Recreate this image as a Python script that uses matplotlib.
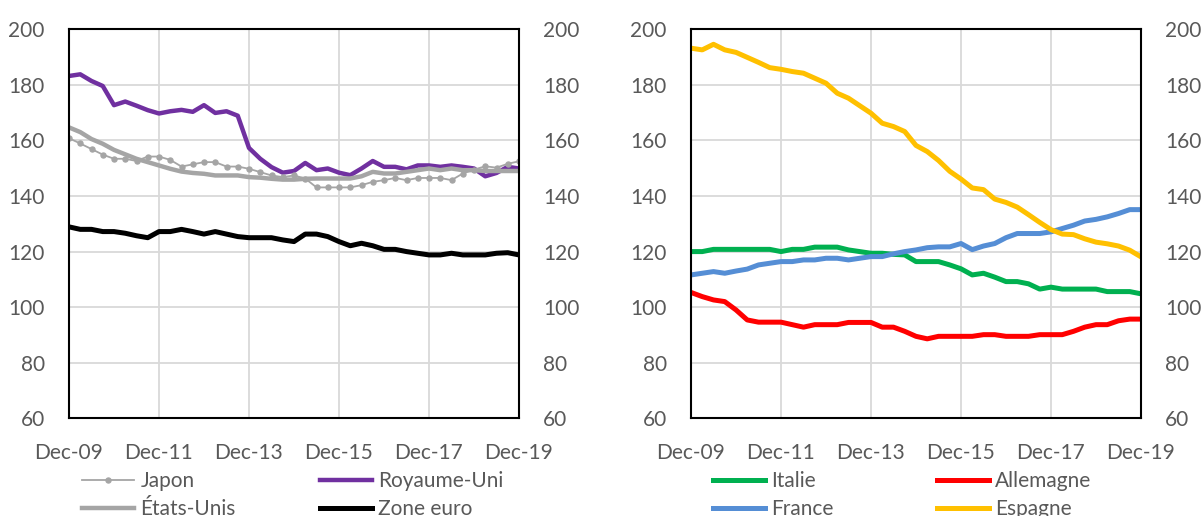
import matplotlib
matplotlib.use("Agg")
import matplotlib.pyplot as plt
from matplotlib.legend import Legend

plt.rcParams['font.family'] = ['Lato', 'DejaVu Sans']

# Quarterly observations, Dec-09 .. Dec-19 (41 quarters)
tick_labels = ["Dec-09", "Dec-11", "Dec-13", "Dec-15", "Dec-17", "Dec-19"]

japon = [160.8, 158.9, 156.9, 154.9, 153.4, 153.4, 152.6, 154.2, 154.2, 153.0,
         150.6, 151.4, 152.2, 152.2, 150.6, 150.6, 149.8, 148.6, 147.4, 146.8,
         147.4, 146.3, 143.1, 143.1, 143.1, 143.1, 143.9, 145.1, 145.7, 146.5,
         145.7, 146.5, 146.5, 146.5, 145.7, 148.1, 149.5, 150.7, 150.2, 151.6,
         152.5]
royaume_uni = [183.2, 183.8, 181.4, 179.6, 172.7, 174.0, 172.5, 170.9, 169.7, 170.5,
               171.0, 170.3, 172.7, 169.9, 170.5, 168.9, 157.3, 153.4, 150.4, 148.4,
               149.0, 151.9, 149.3, 149.9, 148.4, 147.5, 149.9, 152.6, 150.5, 150.5,
               149.6, 151.0, 151.0, 150.5, 151.0, 150.5, 149.9, 147.1, 148.3, 150.5,
               149.9]
etats_unis = [164.7, 163.0, 160.5, 158.8, 156.6, 155.0, 153.4, 152.2, 151.0, 149.8,
              148.8, 148.3, 148.0, 147.4, 147.4, 147.4, 146.8, 146.6, 146.2, 145.9,
              145.9, 146.2, 146.3, 146.3, 146.3, 146.3, 147.1, 148.7, 148.1, 148.1,
              148.7, 149.3, 149.9, 149.3, 149.9, 149.3, 149.3, 149.0, 149.0, 149.0,
              149.0]
zone_euro = [128.9, 128.0, 128.0, 127.2, 127.2, 126.6, 125.7, 125.0, 127.2, 127.2,
             128.0, 127.2, 126.3, 127.2, 126.3, 125.4, 125.0, 125.0, 125.0, 124.2,
             123.6, 126.3, 126.3, 125.4, 123.6, 122.1, 123.0, 122.1, 120.8, 120.8,
             120.0, 119.4, 118.8, 118.8, 119.4, 118.8, 118.8, 118.8, 119.4, 119.6,
             118.8]

italie = [120.0, 120.0, 120.8, 120.8, 120.8, 120.8, 120.8, 120.8, 120.0, 120.8,
          120.8, 121.6, 121.6, 121.6, 120.6, 120.0, 119.4, 119.4, 119.0, 118.8,
          116.4, 116.4, 116.4, 115.2, 113.8, 111.6, 112.2, 110.8, 109.2, 109.2,
          108.4, 106.5, 107.2, 106.5, 106.5, 106.5, 106.5, 105.6, 105.6, 105.6,
          104.8]
allemagne = [105.3, 103.8, 102.6, 102.0, 99.0, 95.4, 94.6, 94.6, 94.6, 93.7,
             92.8, 93.7, 93.7, 93.7, 94.5, 94.5, 94.5, 92.8, 92.8, 91.3,
             89.5, 88.6, 89.5, 89.5, 89.5, 89.5, 90.1, 90.1, 89.5, 89.5,
             89.5, 90.1, 90.1, 90.1, 91.3, 92.8, 93.7, 93.7, 95.1, 95.7,
             95.7]
france = [111.6, 112.2, 112.8, 112.2, 113.0, 113.7, 115.2, 115.8, 116.4, 116.4,
          117.0, 117.0, 117.6, 117.6, 117.0, 117.6, 118.2, 118.2, 119.2, 120.0,
          120.6, 121.4, 121.7, 121.7, 122.9, 120.7, 122.0, 122.9, 125.0, 126.5,
          126.5, 126.5, 127.1, 128.3, 129.5, 131.0, 131.6, 132.5, 133.7, 135.1,
          135.1]
espagne = [193.2, 192.6, 194.6, 192.6, 191.7, 189.9, 188.1, 186.2, 185.6, 184.8,
           184.2, 182.4, 180.6, 177.0, 175.2, 172.5, 169.8, 166.2, 165.0, 163.2,
           158.2, 156.0, 152.8, 148.9, 146.1, 142.9, 142.3, 138.9, 137.7, 136.0,
           133.3, 130.5, 127.9, 126.3, 126.1, 124.6, 123.4, 122.8, 122.0, 120.5,
           118.1]

quarters = list(range(len(japon)))
tick_pos = quarters[::8]

TEXT = "#595959"
GRID = "#D9D9D9"
FS = 15

fig = plt.figure(figsize=(12.01, 5.16), dpi=100)
W, H = 1201, 516
ax1 = fig.add_axes([69 / W, (H - 418.3) / H, 450 / W, 389 / H])
ax2 = fig.add_axes([691 / W, (H - 418.3) / H, 450 / W, 389 / H])


def style(ax):
    ax.set_xlim(0, 40)
    ax.set_ylim(60, 200)
    ax.set_yticks(range(60, 201, 20))
    ax.set_xticks(tick_pos)
    ax.set_xticklabels(tick_labels)
    ax.grid(True, color=GRID, linewidth=1.3)
    ax.set_axisbelow(True)
    for s in ax.spines.values():
        s.set_color("black")
        s.set_linewidth(1.5)
    ax.tick_params(axis="both", length=0, labelsize=FS, labelcolor=TEXT)
    ax.tick_params(axis="y", labelright=True, pad=17.5)
    ax.tick_params(axis="x", pad=17.5)


style(ax1)
style(ax2)

# Left panel
l_ru, = ax1.plot(quarters, royaume_uni, color="#7030A0", lw=3.2, solid_joinstyle="round")
l_ze, = ax1.plot(quarters, zone_euro, color="black", lw=3.6, solid_joinstyle="round")
l_us, = ax1.plot(quarters, etats_unis, color="#A5A5A5", lw=3.2, solid_joinstyle="round")
l_jp, = ax1.plot(quarters, japon, color="#A5A5A5", lw=1.3, marker="o", markersize=3.6)

# Right panel
l_it, = ax2.plot(quarters, italie, color="#00B050", lw=3.6, solid_joinstyle="round")
l_de, = ax2.plot(quarters, allemagne, color="#FF0000", lw=3.6, solid_joinstyle="round")
l_fr, = ax2.plot(quarters, france, color="#558ED5", lw=3.6, solid_joinstyle="round")
l_es, = ax2.plot(quarters, espagne, color="#FFC000", lw=3.6, solid_joinstyle="round")


def column_legend(ax, handles, labels, x_px):
    leg = Legend(ax, handles, labels, loc="upper left",
                 bbox_to_anchor=(x_px / W, (H - 471) / H),
                 bbox_transform=fig.transFigure, frameon=False,
                 borderaxespad=0, borderpad=0, handlelength=2.5,
                 handletextpad=0.3, labelspacing=0.4, fontsize=FS,
                 labelcolor=TEXT, numpoints=1)
    ax.add_artist(leg)
    return leg


column_legend(ax1, [l_jp, l_us], ["Japon", "États-Unis"], 82)
column_legend(ax1, [l_ru, l_ze], ["Royaume-Uni", "Zone euro"], 320)
column_legend(ax2, [l_it, l_fr], ["Italie", "France"], 713)
column_legend(ax2, [l_de, l_es], ["Allemagne", "Espagne"], 937)

fig.savefig("out.png", dpi=100)
